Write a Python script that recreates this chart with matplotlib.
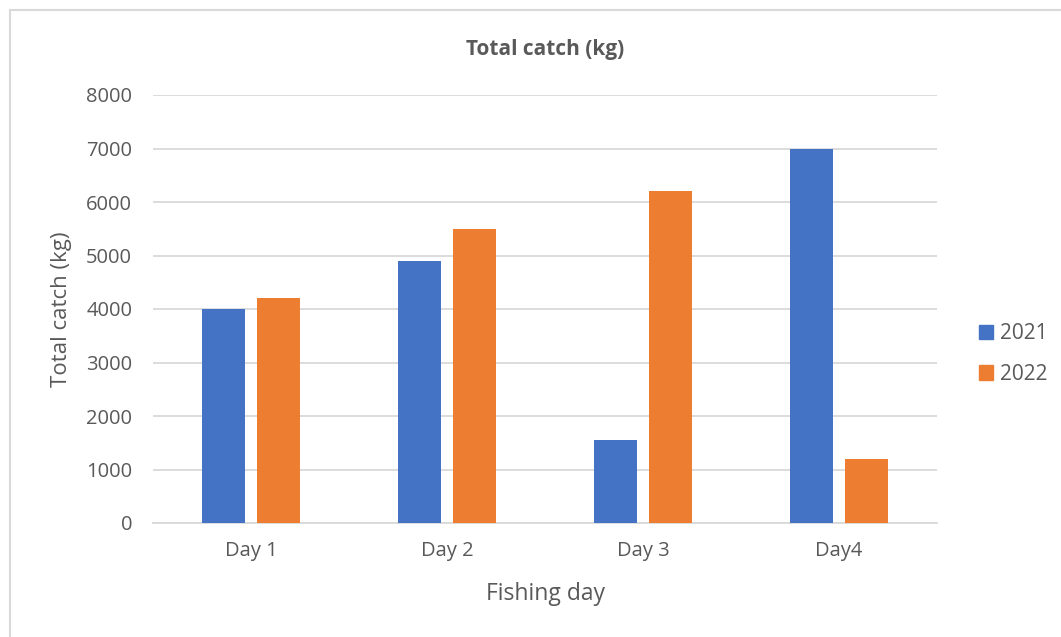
import matplotlib.pyplot as plt
import numpy as np
from matplotlib.patches import Patch

plt.rcParams["font.family"] = ["Open Sans", "DejaVu Sans"]

# Data
days = ["Day 1", "Day 2", "Day 3", "Day4"]
catch_2021 = [4000, 4900, 1550, 7000]
catch_2022 = [4200, 5500, 6200, 1200]
y_ticks = [0, 1000, 2000, 3000, 4000, 5000, 6000, 7000, 8000]

BLUE = "#4472C4"
ORANGE = "#ED7D31"
TEXT = "#595959"
GRID = "#D9D9D9"

fig = plt.figure(figsize=(10.61, 6.37), dpi=100)
W, H = 1061, 637
ax = fig.add_axes([153 / W, 1 - 523 / H, (937 - 153) / W, (523 - 95) / H])

x = np.arange(len(days))
ax.bar(x - 0.14, catch_2021, width=0.22, color=BLUE, zorder=3)
ax.bar(x + 0.14, catch_2022, width=0.22, color=ORANGE, zorder=3)

ax.set_xlim(-0.5, len(days) - 0.5)
ax.set_ylim(0, 8000)
ax.set_yticks(y_ticks)
ax.set_xticks(x)
ax.set_xticklabels(days)
ax.yaxis.grid(True, color=GRID, linewidth=1.3, zorder=0)
ax.tick_params(axis="both", length=0, labelsize=14.5, labelcolor=TEXT)
ax.tick_params(axis="y", pad=15)
ax.tick_params(axis="x", pad=13)
for side in ["top", "right", "left"]:
    ax.spines[side].set_visible(False)
ax.spines["bottom"].set_color(GRID)
ax.spines["bottom"].set_linewidth(1.3)

ax.set_title("Total catch (kg)", fontsize=15, fontweight="bold", color=TEXT, pad=29)
ax.set_xlabel("Fishing day", fontsize=16.5, color=TEXT, labelpad=15)
ax.set_ylabel("Total catch (kg)", fontsize=16, color=TEXT, labelpad=10)

handles = [Patch(color=BLUE), Patch(color=ORANGE)]
fig.legend(handles, ["2021", "2022"], loc="center left",
           bbox_to_anchor=(960 / W, 1 - 354 / H), frameon=False,
           fontsize=15, labelcolor=TEXT, handlelength=0.68, handleheight=0.68,
           handletextpad=0.35, labelspacing=0.95)

# outer chart border
fig.add_artist(plt.Line2D([10 / W, 10 / W], [0, 1 - 10 / H], color=GRID, linewidth=1.5))
fig.add_artist(plt.Line2D([10 / W, 1], [1 - 10 / H, 1 - 10 / H], color=GRID, linewidth=1.5))

fig.savefig("out.png", dpi=100)
